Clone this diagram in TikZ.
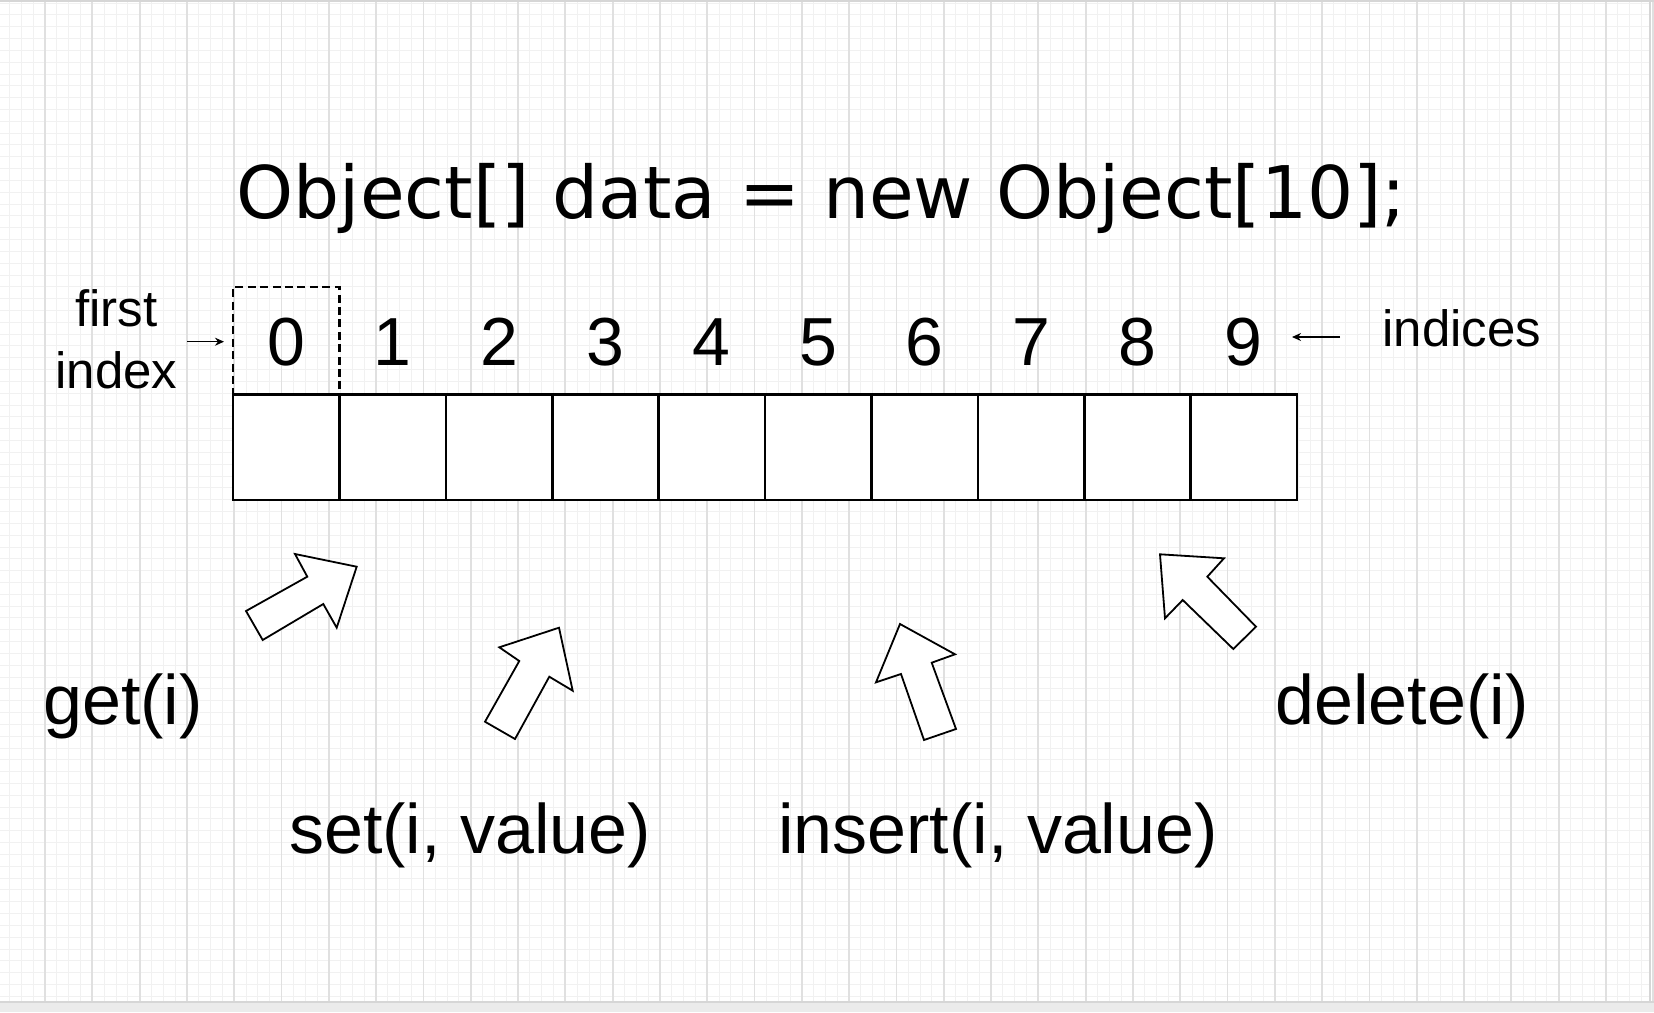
\documentclass[tikz,border=0pt]{standalone}
\usepackage{fontspec}
\setmainfont{Liberation Sans}
\newfontfamily\titlefont{DejaVu Sans}
\usetikzlibrary{arrows.meta}
\definecolor{gridminor}{HTML}{F1F1F1}
\definecolor{gridmajor}{HTML}{E0E0E0}
\definecolor{frameline}{HTML}{D6D6D6}
\definecolor{bandfill}{HTML}{EBEBEB}
\begin{document}
\begin{tikzpicture}[x=0.5pt,y=-0.5pt,
  cell/.style={draw=black, line width=1.3pt, fill=white, minimum width=53.2pt, minimum height=52.75pt, inner sep=0pt, outer sep=0pt},
  dbox/.style={draw=black, line width=1.3pt, dash pattern=on 4pt off 2.2pt, minimum width=53.2pt, minimum height=53.75pt, inner sep=0pt, outer sep=0pt},
  digit/.style={font=\fontsize{34}{40}\selectfont, inner sep=0pt, anchor=base},
  oplabel/.style={font=\fontsize{35}{42}\selectfont, inner sep=0pt, anchor=base},
  smalllabel/.style={font=\fontsize{25.5}{30.7}\selectfont, inner sep=0pt, anchor=base},
  blockarrow/.style={draw=black, fill=white, line width=0.9pt, line join=miter},
  thinarrow/.style={line width=0.6pt, -{Stealth[length=4.5pt,width=4pt]}}]

% background and bounding box
\fill[white] (0,0) rectangle (1654,1012);
\useasboundingbox (0,0) rectangle (1654,1012);

% grid
\foreach \i in {0,...,140} {
  \draw[line width=0.45pt, gridminor] ({-2.3+\i*11.825},0) -- ({-2.3+\i*11.825},1002);
}
\foreach \j in {0,...,85} {
  \draw[line width=0.45pt, gridminor] (0,{3+\j*11.825}) -- (1650,{3+\j*11.825});
}
\foreach \i in {0,...,35} {
  \draw[line width=0.9pt, gridmajor] ({-2.3+\i*47.3},0) -- ({-2.3+\i*47.3},1002);
}

% frame
\fill[bandfill] (0,1002) rectangle (1654,1012);
\draw[frameline, line width=1pt] (0,1002) -- (1654,1002);
\draw[frameline, line width=1pt] (0,1) -- (1654,1);
\draw[frameline, line width=1pt] (1650,0) -- (1650,1002);

% title
\node[font=\titlefont\fontsize{36.3}{44}\selectfont, anchor=base, inner sep=0pt] (title) at (821.5,218) {Object[] data = new Object[10];};

% dashed first-index box
\node[dbox] (d0) at (286.2,340.75) {};

% array cells and indices
\foreach \k in {0,...,9} {
  \node[cell] (c\k) at ({286.2+\k*106.4},447.25) {};
  \node[digit] (i\k) at ({286.2+\k*106.4},365) {\k};
}

% side labels
\node[smalllabel] (firstlbl) at (116.5,326.7) {first};
\node[smalllabel] (indexlbl) at (116.5,388) {index};
\node[smalllabel] (indiceslbl) at (1462,346.7) {indices};

\coordinate (fistart) at (187,341.7);
\draw[thinarrow, shorten >=4.5pt] (fistart) -- (fistart -| d0.west);
\coordinate (instart) at (1340,337);
\draw[thinarrow] (instart) -- ([xshift=-2.5pt]c9.east |- instart);

% operation labels
\node[oplabel] (getlbl) at (123,724) {get(i)};
\node[oplabel] (setlbl) at (470,853) {set(i, value)};
\node[oplabel] (insertlbl) at (998,853) {insert(i, value)};
\node[oplabel] (deletelbl) at (1402,724) {delete(i)};

% block arrows
\draw[blockarrow] (246,611) -- (307.3,576.7) -- (295,554) -- (356.7,566.7) -- (336.7,627.7) -- (323.3,604) -- (262.7,640) -- cycle;
\draw[blockarrow] (485,721.7) -- (515,739) -- (549.3,676.7) -- (572.7,690.7) -- (559,627.7) -- (499.3,647.3) -- (519.3,661) -- cycle;
\draw[blockarrow] (900,624) -- (955,654.3) -- (931.7,662.7) -- (956,729) -- (924,740) -- (901,674) -- (876,682.3) -- cycle;
\draw[blockarrow] (1160,554.3) -- (1224,558.3) -- (1207.3,576.7) -- (1256,626.7) -- (1233.3,649) -- (1182.7,600) -- (1165,618.3) -- cycle;

\end{tikzpicture}
\end{document}
